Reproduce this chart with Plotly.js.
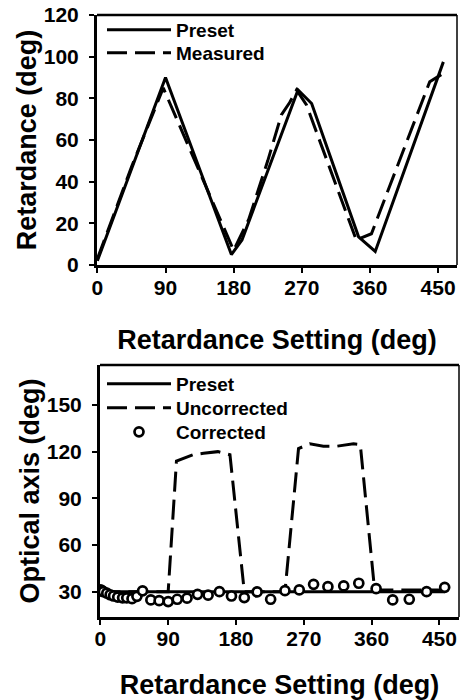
<!DOCTYPE html>
<html>
<head>
<meta charset="utf-8">
<script src="https://cdn.plot.ly/plotly-3.0.1.min.js"></script>
<style>html,body{margin:0;padding:0;background:#fff;}#chart{width:461px;height:700px;}</style>
</head>
<body>
<div id="chart"></div>
<script>
// ---- Top panel: retardance ----
const presetRetX = [0, 90, 177, 191, 265, 283, 345, 367, 457];
const presetRetY = [2, 90, 5, 12, 84, 77.5, 13.5, 6.5, 97.5];
const measuredRetX = [0, 45, 87, 180, 200, 225, 243, 254, 263, 276, 342, 362, 439, 457];
const measuredRetY = [3, 47, 85, 7, 22, 50, 72, 78, 84, 77, 12, 15, 88, 92];

// ---- Bottom panel: optical axis ----
const presetAxisX = [0, 457];
const presetAxisY = [30, 30];
const uncorrectedX = [0, 90, 101, 123, 137, 156, 172, 191, 245, 263, 278, 296, 314, 336, 345, 364, 457];
const uncorrectedY = [30, 30, 114, 118, 119, 120, 118, 30, 30, 122, 125, 123.5, 123.5, 125, 124.5, 31, 31];
const correctedX = [0, 1, 2, 4, 8.5, 13, 17.5, 23, 29.5, 35, 42, 48.5, 56, 67, 78, 90, 102, 115, 129, 143, 158, 174, 191, 208, 226, 245, 264, 283, 302, 323, 343, 366, 388, 410, 433, 457];
const correctedY = [31, 31, 30.5, 30, 29, 28, 27.2, 26.5, 26, 26, 25.5, 27, 30.5, 24.7, 24.2, 23.6, 25.1, 25.8, 28.3, 27.7, 30, 27.2, 26.2, 29.8, 25.1, 30.6, 31.1, 34.7, 33.2, 33.7, 35.4, 31.9, 24.7, 25.1, 30, 32.8];

const xTicks = [0, 90, 180, 270, 360, 450];
const yTicksTop = [0, 20, 40, 60, 80, 100, 120];
const yTicksBottom = [30, 60, 90, 120, 150];

const W = 461, H = 700;
const FONT = 'Liberation Sans, Arial, Helvetica, sans-serif';
const solid = {color: '#000', width: 3};
const dashed = {color: '#000', width: 3, dash: '20px,8px'};

const traces = [
  {x: presetRetX, y: presetRetY, mode: 'lines', name: 'Preset', line: solid, xaxis: 'x', yaxis: 'y', legend: 'legend'},
  {x: measuredRetX, y: measuredRetY, mode: 'lines', name: 'Measured', line: dashed, xaxis: 'x', yaxis: 'y', legend: 'legend2'},
  {x: presetAxisX, y: presetAxisY, mode: 'lines', name: 'Preset', line: solid, xaxis: 'x2', yaxis: 'y2', legend: 'legend3'},
  {x: uncorrectedX, y: uncorrectedY, mode: 'lines', name: 'Uncorrected', line: dashed, xaxis: 'x2', yaxis: 'y2', legend: 'legend4'},
  {x: correctedX, y: correctedY, mode: 'markers', name: 'Corrected', xaxis: 'x2', yaxis: 'y2', legend: 'legend5',
   marker: {symbol: 'circle', size: 9, color: '#fff', line: {color: '#000', width: 2.7}}}
];

function axis(extra) {
  return Object.assign({
    showline: true, linewidth: 3, linecolor: '#000', mirror: false,
    ticks: 'outside', ticklen: 5, tickwidth: 2, tickcolor: '#000',
    showgrid: false, zeroline: false, automargin: false,
    tickfont: {family: FONT, size: 21, weight: 'bold', color: '#000'}
  }, extra);
}
const titleFont = {family: FONT, size: 27, weight: 'bold', color: '#000'};
function leg(xpx, ypx) {
  return {x: xpx / W, y: 1 - ypx / H, xanchor: 'left', yanchor: 'middle', bgcolor: 'rgba(0,0,0,0)',
    borderwidth: 0, itemwidth: 64, font: {family: FONT, size: 19, weight: 'bold', color: '#000'}};
}

const layout = {
  width: W, height: H,
  margin: {l: 0, r: 0, t: 0, b: 0},
  paper_bgcolor: '#fff', plot_bgcolor: '#fff',
  showlegend: true,
  xaxis: axis({domain: [97 / W, 457 / W], range: [-0.5, 475], tickvals: xTicks, anchor: 'y',
    ticklabelstandoff: -3,
    title: {text: 'Retardance Setting (deg)', font: titleFont, standoff: 32}}),
  yaxis: axis({domain: [1 - 265 / H, 1 - 15 / H], range: [0, 120], tickvals: yTicksTop, anchor: 'x',
    ticklabelstandoff: 6,
    title: {text: 'Retardance (deg)', font: titleFont, standoff: 0}}),
  xaxis2: axis({domain: [100 / W, 459 / W], range: [-0.5, 476], tickvals: xTicks, anchor: 'y2',
    ticklabelstandoff: -4,
    title: {text: 'Retardance Setting (deg)', font: titleFont, standoff: 30}}),
  yaxis2: axis({domain: [1 - 617 / H, 1 - 365 / H], range: [13.7, 175.7], tickvals: yTicksBottom, anchor: 'x2',
    ticklabelstandoff: 6,
    title: {text: 'Optical axis (deg)', font: titleFont, standoff: 0}}),
  legend: leg(102, 30),
  legend2: leg(102, 53),
  legend3: leg(102, 384),
  legend4: leg(102, 408),
  legend5: leg(102, 432),
  shapes: [
    {type: 'line', xref: 'x domain', yref: 'y domain', x0: 0, x1: 1, y0: 1, y1: 1, line: {color: '#000', width: 2.5}},
    {type: 'line', xref: 'x domain', yref: 'y domain', x0: 1, x1: 1, y0: 0, y1: 1, line: {color: '#000', width: 1.5}},
    {type: 'line', xref: 'x2 domain', yref: 'y2 domain', x0: 0, x1: 1, y0: 1, y1: 1, line: {color: '#000', width: 2.5}},
    {type: 'line', xref: 'x2 domain', yref: 'y2 domain', x0: 1, x1: 1, y0: 0, y1: 1, line: {color: '#000', width: 1.5}}
  ]
};

Plotly.newPlot('chart', traces, layout, {staticPlot: true, displayModeBar: false});
</script>
</body>
</html>
